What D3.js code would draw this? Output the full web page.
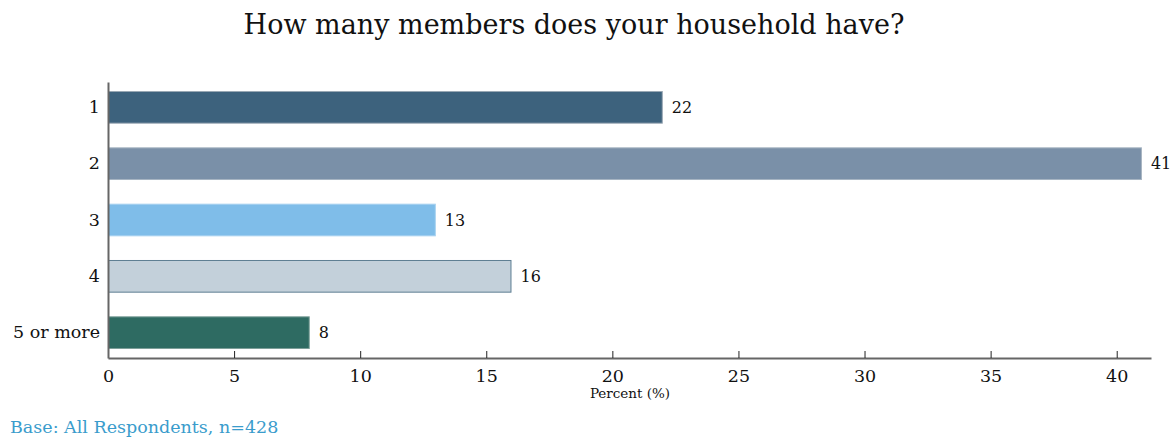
<!DOCTYPE html>
<html>
<head>
<meta charset="utf-8">
<script src="https://cdn.jsdelivr.net/npm/d3@7"></script>
<style>
  html, body { margin: 0; padding: 0; background: #fff; }
  svg { display: block; }
  text { font-family: "DejaVu Serif", "Liberation Serif", serif; fill: #111; }
</style>
</head>
<body>
<svg id="chart" width="1175" height="439"></svg>
<script>
// Household size distribution (percent of respondents)
const categories = ["1", "2", "3", "4", "5 or more"];
const percentValues = [22, 41, 13, 16, 8];
const barColors = ["#3d627d", "#7a90a8", "#7fbde9", "#c3d0da", "#2e6b62"];
const barStrokes = ["#9aa8b4", "#a6b4c2", "#a9d2f0", "#5e7e93", "#7d9f99"];
const xTicks = [0, 5, 10, 15, 20, 25, 30, 35, 40];

const title = "How many members does your household have?";
const xTitle = "Percent (%)";
const footnote = "Base: All Respondents, n=428";

const width = 1175, height = 439;
const margin = { top: 82, right: 24, bottom: 81, left: 108 };

const svg = d3.select("#chart");

const x = d3.scaleLinear()
  .domain([0, 41.36])
  .range([margin.left, width - margin.right]);

const y = d3.scaleBand()
  .domain(categories)
  .range([margin.top, height - margin.bottom])
  .paddingInner(0.42)
  .paddingOuter(0.16);

// Bars
svg.append("g")
  .selectAll("rect")
  .data(categories)
  .join("rect")
  .attr("x", x(0) + 0.5)
  .attr("y", d => y(d) + 0.5)
  .attr("width", (d, i) => x(percentValues[i]) - x(0) - 1)
  .attr("height", y.bandwidth() - 1)
  .attr("fill", (d, i) => barColors[i])
  .attr("stroke", (d, i) => barStrokes[i])
  .attr("stroke-width", 1);

// Value labels
svg.append("g")
  .selectAll("text")
  .data(categories)
  .join("text")
  .attr("x", (d, i) => x(percentValues[i]) + 9)
  .attr("y", d => y(d) + y.bandwidth() / 2)
  .attr("dy", "0.35em")
  .attr("font-size", 16)
  .text((d, i) => percentValues[i]);

// X axis
const xAxis = svg.append("g")
  .attr("transform", `translate(0,${height - margin.bottom})`)
  .call(d3.axisBottom(x).tickValues(xTicks).tickSizeInner(-7).tickSizeOuter(0).tickPadding(12));
xAxis.select(".domain").attr("stroke", "#666").attr("stroke-width", 2);
xAxis.selectAll(".tick line").attr("stroke", "#222");
xAxis.selectAll(".tick text")
  .attr("font-family", "DejaVu Serif, serif")
  .attr("font-size", 17.5)
  .attr("fill", "#111");

// Y axis
const yAxis = svg.append("g")
  .attr("transform", `translate(${margin.left},0)`)
  .call(d3.axisLeft(y).tickSize(0).tickPadding(8));
yAxis.select(".domain").attr("stroke", "#666").attr("stroke-width", 2);
yAxis.selectAll(".tick text")
  .attr("font-family", "DejaVu Serif, serif")
  .attr("font-size", 17.5)
  .attr("fill", "#111");

// Title
svg.append("text")
  .attr("x", 574)
  .attr("y", 34)
  .attr("text-anchor", "middle")
  .attr("font-size", 27)
  .text(title);

// Axis title
svg.append("text")
  .attr("x", 630)
  .attr("y", 398)
  .attr("text-anchor", "middle")
  .attr("font-size", 13.5)
  .text(xTitle);

// Footnote
svg.append("text")
  .attr("x", 10)
  .attr("y", 433)
  .attr("font-size", 17.5)
  .style("fill", "#3a9ccc")
  .text(footnote);
</script>
</body>
</html>
